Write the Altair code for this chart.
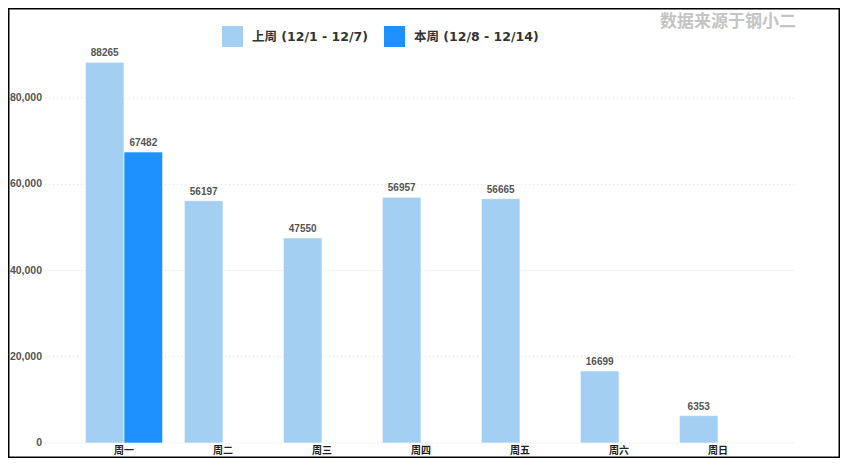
import altair as alt
import pandas as pd

days = ["周一", "周二", "周三", "周四", "周五", "周六", "周日"]
series = ["上周 (12/1 - 12/7)", "本周 (12/8 - 12/14)"]
last_week = [88265, 56197, 47550, 56957, 56665, 16699, 6353]
this_week = [67482]
y_ticks = [0, 20000, 40000, 60000, 80000]
colors = ["#a3cff3", "#1e90ff"]
source_note = "数据来源于钢小二"

rows = [{"day": d, "series": series[0], "value": v} for d, v in zip(days, last_week)]
rows += [{"day": d, "series": series[1], "value": v} for d, v in zip(days, this_week)]
df = pd.DataFrame(rows)
ticks_df = pd.DataFrame({"t": y_ticks})
days_df = pd.DataFrame({"day": days})

W, H = 832, 450
xscale = alt.Scale(domain=days, range=[66.5, 759.5], paddingInner=0.22, paddingOuter=0.11)
yscale = alt.Scale(domain=[-3478, 100870], nice=False, zero=False)
x = alt.X("day:N", scale=xscale, axis=None, sort=days)
xo = alt.XOffset("series:N", scale=alt.Scale(domain=series), sort=series)

num_font = "Liberation Sans"

grid = alt.Chart(ticks_df).mark_rule(color="#dddddd", strokeDash=[1, 3], strokeWidth=1).encode(
    x=alt.value(37), x2=alt.value(787), y=alt.Y("t:Q", scale=yscale, axis=None)
)
ylabels = alt.Chart(ticks_df).mark_text(
    align="right", baseline="middle", font=num_font, fontWeight="bold", fontSize=10.5, color="#555555"
).encode(
    x=alt.value(34), y=alt.Y("t:Q", scale=yscale, axis=None), text=alt.Text("t:Q", format=",")
)
bars = alt.Chart(df).mark_bar(stroke="white", strokeWidth=0.6).encode(
    x=x, xOffset=xo,
    y=alt.Y("value:Q", scale=yscale, axis=None),
    y2=alt.datum(0),
    color=alt.Color(
        "series:N",
        scale=alt.Scale(domain=series, range=colors),
        legend=alt.Legend(
            title=None, orient="none", legendX=214, legendY=18, direction="horizontal",
            symbolType="square", symbolSize=441, symbolStrokeWidth=0, symbolOpacity=1,
            labelFontSize=12.5, labelFontWeight="bold", labelColor="#333333",
            labelFont="DejaVu Sans, Noto Sans CJK SC", labelOffset=9, columnPadding=16,
            padding=0, labelLimit=300,
        ),
    ),
)
vlabels = alt.Chart(df).mark_text(
    baseline="bottom", dy=-4, font=num_font, fontWeight="bold", fontSize=10, color="#555555"
).encode(
    x=x, xOffset=xo, y=alt.Y("value:Q", scale=yscale, axis=None), text="value:Q"
)
xlabels = alt.Chart(days_df).mark_text(
    baseline="middle", font="Noto Sans CJK SC", fontWeight="bold", fontSize=10, color="#222222"
).encode(
    x=x, y=alt.value(442.5), text="day:N"
)
note = alt.Chart(pd.DataFrame({"s": [source_note]})).mark_text(
    baseline="middle", align="center", font="Noto Sans CJK SC", fontWeight="bold", fontSize=17, color="#c4c4c4"
).encode(x=alt.value(720), y=alt.value(14), text="s:N")

chart = alt.layer(grid, ylabels, bars, vlabels, xlabels, note).properties(
    width=W, height=H, padding=0, background="white"
).configure_view(stroke="black", strokeWidth=3)

chart.save("out.html", embed_options={"renderer": "svg", "actions": False})
